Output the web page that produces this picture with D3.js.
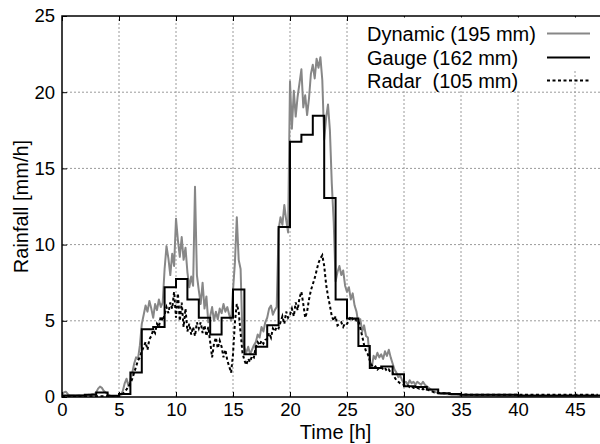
<!DOCTYPE html>
<html>
<head>
<meta charset="utf-8">
<script src="https://cdn.jsdelivr.net/npm/d3@7"></script>
<style>
  body { margin: 0; background: #fff; }
  text { font-family: "Liberation Sans", Arial, Helvetica, sans-serif; fill: #000; }
</style>
</head>
<body>
<svg id="chart" width="600" height="444"></svg>
<script>
// Rainfall intensity [mm/h] over a 47 h event.
// Dynamic and radar series are sampled every 10 minutes, gauge hourly.
const stepHours = 1 / 6;

const dynamicRain = [
  0.15,0.3,0.35,0.2,0.1,0.1,
  0.1,0.08,0.1,0.12,0.1,0.1,
  0.1,0.12,0.15,0.15,0.2,0.2,
  0.3,0.55,0.68,0.6,0.4,0.3,
  0.2,0.1,0.05,0.02,0.0,0.0,
  0.05,0.15,0.4,0.9,1.2,0.7,
  1.1,1.6,2.2,2.6,2.5,3.4,
  4.8,5.4,6.0,5.6,6.3,5.8,
  5.2,6.1,5.7,6.4,5.9,6.2,
  8.4,9.9,9.1,8.0,9.4,8.6,
  11.7,10.3,9.2,10.5,9.0,9.8,
  8.2,7.2,7.9,7.3,13.8,8.0,
  7.0,6.1,7.5,5.8,6.6,4.9,
  5.3,5.9,5.0,5.6,5.1,5.8,
  5.5,6.1,5.6,5.9,5.4,5.0,
  7.0,8.8,11.8,9.0,8.4,3.8,
  3.2,2.9,3.3,2.8,3.1,3.4,
  3.6,4.1,3.9,4.6,4.3,4.9,
  5.2,5.8,6.0,5.4,5.7,5.9,
  11.0,11.8,11.3,12.6,11.6,10.8,
  20.7,17.6,20.1,18.4,19.7,20.6,
  21.5,19.0,19.8,18.5,19.6,21.2,
  21.8,20.9,22.2,21.6,22.3,20.8,
  16.9,18.3,19.2,17.5,14.0,11.5,
  7.6,8.2,8.6,8.0,8.3,7.3,
  6.9,7.2,6.4,6.8,6.0,5.6,
  4.8,5.1,4.3,4.7,4.0,3.9,
  2.4,1.9,2.7,2.5,2.9,2.6,
  2.8,2.5,3.0,2.7,3.1,2.6,
  2.2,1.8,1.6,1.3,1.4,1.1,
  0.9,1.0,0.8,1.1,0.9,1.0,
  0.8,1.0,0.9,0.8,1.0,0.8,
  0.7,0.6,0.5,0.4,0.35,0.3,
  0.25,0.22,0.2,0.22,0.2,0.18,
  0.18,0.15,0.16,0.14,0.15,0.12,
  0.1,0.1,0.1,0.1,0.1,0.1,
  0.1,0.09,0.09,0.08,0.08,0.08,
  0.08,0.08,0.08,0.08,0.08,0.08,
  0.08,0.07,0.07,0.07,0.07,0.07,
  0.07,0.07,0.07,0.07,0.07,0.07,
  0.07,0.06,0.06,0.06,0.06,0.06,
  0.06,0.06,0.06,0.06,0.06,0.06,
  0.06,0.06,0.06,0.05,0.05,0.05,
  0.05,0.05,0.05,0.05,0.05,0.05,
  0.05,0.05,0.05,0.05,0.05,0.05,
  0.05,0.05,0.05,0.05,0.05,0.05,
  0.05,0.05,0.05,0.05,0.05,0.05,
  0.05
];

const radarRain = [
  0.05,0.05,0.05,0.05,0.05,0.05,
  0.05,0.05,0.05,0.05,0.05,0.05,
  0.05,0.05,0.05,0.05,0.05,0.05,
  0.05,0.05,0.05,0.05,0.05,0.05,
  0.05,0.05,0.05,0.05,0.05,0.05,
  0.05,0.1,0.2,0.35,0.5,0.7,
  0.9,1.2,1.6,2.0,2.4,2.6,
  3.0,3.3,3.6,3.1,3.8,4.0,
  4.4,4.2,4.8,4.6,5.3,5.0,
  5.4,5.9,5.5,6.2,5.8,6.9,
  5.2,6.8,5.0,6.2,4.6,5.8,
  4.3,4.8,4.1,4.6,4.0,4.9,
  4.5,4.9,4.2,4.7,4.0,4.6,
  3.6,2.6,3.5,3.9,3.2,3.7,
  3.3,2.6,3.1,2.4,2.0,1.6,
  2.8,4.9,6.1,5.6,4.2,2.9,
  2.4,2.1,2.5,2.3,2.7,2.6,
  3.3,3.6,3.4,3.7,3.5,3.75,
  3.8,4.2,3.9,4.5,4.3,4.6,
  4.5,4.9,5.3,4.8,5.6,5.2,
  5.4,5.8,5.3,6.2,5.7,6.5,
  6.9,6.1,5.2,5.6,6.4,7.0,
  7.4,7.8,8.3,8.8,9.1,9.3,
  8.6,7.4,6.6,6.0,5.3,5.0,
  5.3,4.7,4.8,4.9,4.6,4.85,
  4.8,5.0,5.3,5.1,5.2,5.0,
  5.0,4.5,4.0,3.4,3.0,2.8,
  2.4,2.1,1.9,2.0,1.8,1.9,
  2.0,1.8,1.9,1.7,1.8,1.6,
  1.6,1.3,1.1,1.0,0.9,0.85,
  0.8,0.7,0.75,0.65,0.7,0.6,
  0.65,0.6,0.55,0.6,0.5,0.55,
  0.5,0.45,0.4,0.35,0.3,0.3,
  0.28,0.27,0.26,0.25,0.24,0.23,
  0.22,0.21,0.2,0.2,0.19,0.18,
  0.16,0.16,0.16,0.16,0.15,0.15,
  0.15,0.15,0.15,0.15,0.15,0.15,
  0.15,0.15,0.15,0.15,0.15,0.15,
  0.15,0.15,0.15,0.15,0.15,0.15,
  0.15,0.15,0.15,0.15,0.15,0.15,
  0.15,0.15,0.15,0.15,0.15,0.15,
  0.15,0.15,0.15,0.15,0.15,0.15,
  0.15,0.15,0.15,0.15,0.15,0.15,
  0.15,0.15,0.15,0.15,0.15,0.15,
  0.15,0.15,0.15,0.15,0.15,0.15,
  0.15,0.15,0.15,0.15,0.15,0.15,
  0.15,0.15,0.15,0.15,0.15,0.15,
  0.15
];

// Hourly gauge totals, hour 0 .. 47
const gaugeRain = [
  0.1,0.1,0.15,0.3,0.08,0.2,1.6,4.45,4.6,7.2,
  7.75,6.4,5.2,4.1,5.2,7.05,2.8,3.3,4.7,11.15,
  16.75,17.2,18.45,13.05,6.4,5.15,3.35,1.9,2.0,1.5,
  0.7,0.65,0.5,0.25,0.2,0.15,0.15,0.15,0.15,0.15,
  0.1,0.1,0.1,0.1,0.1,0.1,0.1,0.1
];

const xTicks = [0, 5, 10, 15, 20, 25, 30, 35, 40, 45];
const yTicks = [0, 5, 10, 15, 20, 25];
const legendLabels = ["Dynamic (195 mm)", "Gauge (162 mm)", "Radar  (105 mm)"];
const xTitle = "Time [h]";
const yTitle = "Rainfall [mm/h]";

const svg = d3.select("#chart");
const plotLeft = 62, plotTop = 16, plotBottom = 397, plotRight = 609.2;

const x = d3.scaleLinear().domain([0, 48]).range([plotLeft, plotRight]);
const y = d3.scaleLinear().domain([0, 25]).range([plotBottom, plotTop]);

svg.append("rect").attr("width", 600).attr("height", 444).attr("fill", "#fff");

// grid
const grid = svg.append("g")
  .attr("stroke", "#9a9a9a").attr("stroke-width", 1).attr("stroke-dasharray", "2,2");
grid.selectAll(".gx").data(xTicks.filter(d => d > 0)).join("line")
  .attr("x1", d => x(d)).attr("x2", d => x(d))
  .attr("y1", y(0)).attr("y2", y(25));
grid.selectAll(".gy").data(yTicks.filter(d => d > 0 && d < 25)).join("line")
  .attr("x1", x(0)).attr("x2", x(48))
  .attr("y1", d => y(d)).attr("y2", d => y(d));

// series
svg.append("clipPath").attr("id", "plotClip")
  .append("rect").attr("x", plotLeft).attr("y", plotTop)
  .attr("width", plotRight - plotLeft).attr("height", plotBottom - plotTop);
const plot = svg.append("g").attr("clip-path", "url(#plotClip)");

const sampledLine = d3.line()
  .x((d, i) => x(i * stepHours))
  .y(d => y(d));

plot.append("path").datum(dynamicRain)
  .attr("d", sampledLine)
  .attr("fill", "none").attr("stroke", "#878787").attr("stroke-width", 2)
  .attr("stroke-linejoin", "round");

const gaugePoints = gaugeRain.map((v, h) => [h, v]);
gaugePoints.push([gaugeRain.length, gaugeRain[gaugeRain.length - 1]]);
plot.append("path").datum(gaugePoints)
  .attr("d", d3.line().curve(d3.curveStepAfter).x(d => x(d[0])).y(d => y(d[1])))
  .attr("fill", "none").attr("stroke", "#000").attr("stroke-width", 2);

plot.append("path").datum(radarRain)
  .attr("d", sampledLine)
  .attr("fill", "none").attr("stroke", "#000").attr("stroke-width", 2)
  .attr("stroke-dasharray", "3,2.5");

// axes with inward ticks
const fontTick = "18.5px";
const ax = svg.append("g").attr("transform", `translate(0,${plotBottom})`)
  .call(d3.axisBottom(x).tickValues(xTicks).tickSizeInner(-5).tickSizeOuter(0).tickPadding(6));
const ay = svg.append("g").attr("transform", `translate(${plotLeft},0)`)
  .call(d3.axisLeft(y).tickValues(yTicks).tickSizeInner(-5).tickSizeOuter(0).tickPadding(7));
const at = svg.append("g").attr("transform", `translate(0,${plotTop})`)
  .call(d3.axisTop(x).tickValues(xTicks).tickSizeInner(-5).tickSizeOuter(0).tickFormat(""));
[ax, ay, at].forEach(g => {
  g.select(".domain").remove();
  g.selectAll(".tick line").attr("stroke", "#000").attr("stroke-width", 1);
  g.selectAll(".tick text").attr("font-size", fontTick)
    .attr("font-family", "Liberation Sans, Arial, sans-serif").attr("fill", "#000");
});

// frame
svg.append("rect")
  .attr("x", plotLeft).attr("y", plotTop)
  .attr("width", plotRight - plotLeft).attr("height", plotBottom - plotTop)
  .attr("fill", "none").attr("stroke", "#000").attr("stroke-width", 1.5);

// titles
svg.append("text").attr("x", (plotLeft + plotRight) / 2).attr("y", 439)
  .attr("text-anchor", "middle").attr("font-size", "20px").text(xTitle);
svg.append("text").attr("transform", `translate(28,${(plotTop + plotBottom) / 2}) rotate(-90)`)
  .attr("text-anchor", "middle").attr("font-size", "20px").text(yTitle);

// legend
const legend = svg.append("g");
legend.append("rect").attr("x", 362).attr("y", 17.5).attr("width", 240).attr("height", 52)
  .attr("fill", "#fff");
legend.append("rect").attr("x", 365).attr("y", 70).attr("width", 154).attr("height", 20)
  .attr("fill", "#fff");
const rowsY = [33.5, 57.5, 80.5];
const legendStyles = [
  { stroke: "#878787", dash: null },
  { stroke: "#000", dash: null },
  { stroke: "#000", dash: "3,2.5" }
];
legendLabels.forEach((label, i) => {
  legend.append("text").attr("x", 367).attr("y", rowsY[i]).attr("dy", "0.36em")
    .attr("font-size", "20px").style("white-space", "pre").text(label);
  legend.append("line").attr("x1", 547).attr("x2", 590)
    .attr("y1", rowsY[i]).attr("y2", rowsY[i])
    .attr("stroke", legendStyles[i].stroke).attr("stroke-width", 2)
    .attr("stroke-dasharray", legendStyles[i].dash);
});
</script>
</body>
</html>
